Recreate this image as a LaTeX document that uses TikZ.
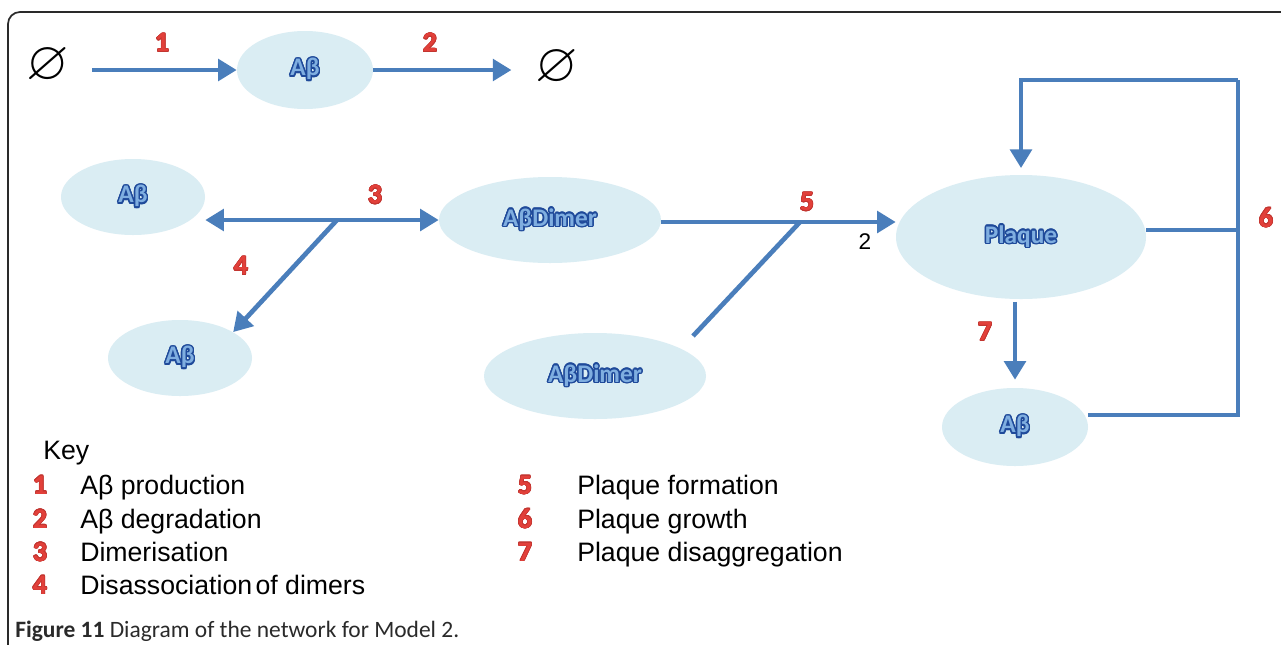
\documentclass[tikz,border=0pt]{standalone}
\usepackage{fontspec}
\usepackage{amssymb}
\usepackage{graphicx}
\setmainfont{Liberation Sans}
\newfontfamily\calfont{Carlito}
\usepackage[copies]{contour}
\usetikzlibrary{arrows.meta,shapes.geometric}
\definecolor{arrowblue}{HTML}{4A7EBB}
\definecolor{ellfill}{HTML}{DAEDF3}
\definecolor{numred}{HTML}{E2403A}
\definecolor{numdark}{HTML}{C23530}
\definecolor{txtfill}{HTML}{7FAEE0}
\definecolor{txtdark}{HTML}{1F4A9A}
\definecolor{framegray}{HTML}{2A2A2A}
\newcommand{\spt}[1]{{\contourlength{1.1pt}\color{txtfill}\contour{txtdark}{#1}}}
\newcommand{\rnum}[1]{{\contourlength{0.45pt}\color{numred}\contour{numdark}{#1}}}
\newcommand{\emptysym}{\scalebox{4.1}{$\varnothing$}}
\begin{document}
\begin{tikzpicture}[x=0.75pt,y=-0.75pt,
  species/.style={ellipse, fill=ellfill, inner sep=0pt, font=\calfont\bfseries\fontsize{19pt}{21pt}\selectfont},
  conn/.style={draw=arrowblue, line width=3.5pt, line join=miter},
  arr/.style={conn, -{Triangle[length=14pt,width=16pt]}},
  darr/.style={conn, {Triangle[length=14pt,width=16pt]}-{Triangle[length=14pt,width=16pt]}},
  num/.style={font=\calfont\bfseries\fontsize{21pt}{23pt}\selectfont, inner sep=0pt},
  empty/.style={inner sep=0pt},
  keytxt/.style={anchor=base west, inner sep=0pt, font=\fontsize{20pt}{22pt}\selectfont},
  keynum/.style={anchor=base, inner sep=0pt, font=\calfont\bfseries\fontsize{21pt}{23pt}\selectfont}
]
\useasboundingbox (0,0) rectangle (1281,644);
\fill[white] (0,0) rectangle (1281,644);
% frame
\draw[framegray, line width=1.3pt, rounded corners=9pt] (8,650) -- (8,12) -- (1290,12);

% nodes
\node[empty] (e1) at (48,66) {\emptysym};
\node[species, minimum width=102pt, minimum height=58.5pt] (ab0) at (305,70) {\spt{Aβ}};
\node[empty] (e2) at (557,68) {\emptysym};

\node[species, minimum width=108pt, minimum height=57pt] (ab1) at (133,197) {\spt{Aβ}};
\node[species, minimum width=166.5pt, minimum height=64.5pt] (d1) at (550,220) {\spt{AβDimer}};
\node[species, minimum width=108pt, minimum height=57pt] (ab2) at (180,358) {\spt{Aβ}};
\node[species, minimum width=166.5pt, minimum height=64.5pt] (d2) at (595,376) {\spt{AβDimer}};
\node[species, minimum width=187.5pt, minimum height=93pt] (pl) at (1021,237) {\spt{Plaque}};
\node[species, minimum width=109.5pt, minimum height=58.5pt] (ab3) at (1015,427) {\spt{Aβ}};

% connectors
\draw[arr] ([xshift=17pt]e1.east |- ab0.west) -- (ab0.west);
\draw[arr, shorten >=18pt] (ab0.east) -- (e2.west |- ab0.east);

\coordinate (j3) at (337,220);
\draw[darr] (ab1.east |- j3) -- (d1.west |- j3);
\draw[arr] (j3) -- (ab2.26);

\coordinate (j5) at (800,222);
\coordinate (b5) at (693,336);
\draw[arr] (d1.east |- j5) -- (pl.west |- j5);
\draw[conn] (b5) -- (j5);

\coordinate (tr) at (1238,80);
\draw[conn] (ab3.east |- 0,415) -| (tr);
\draw[arr, shorten >=5pt] (tr) -| (pl.north);
\draw[conn] (pl.east |- 0,230) -- (tr |- 0,230);
\draw[arr, shorten <=2pt, shorten >=6pt] (pl.south -| ab3.north) -- (ab3.north);

% labels
\node[num] (n1) at (162,43) {\rnum{1}};
\node[num] (n2) at (430,43) {\rnum{2}};
\node[num] (n3) at (375,195) {\rnum{3}};
\node[num] (n4) at (241,266) {\rnum{4}};
\node[num] (n5) at (807,202) {\rnum{5}};
\node[num] (n6) at (1266,218) {\rnum{6}};
\node[num] (n7) at (985,332) {\rnum{7}};
\node[inner sep=0pt, font=\fontsize{17pt}{19pt}\selectfont] (s2) at (865,242) {2};

% key
\node[keytxt] (key) at (43,459) {Key};
\node[keynum] (k1) at (40,494) {\rnum{1}};
\node[keytxt] (t1) at (80,494) {Aβ production};
\node[keynum] (k2) at (40,528) {\rnum{2}};
\node[keytxt] (t2) at (80,528) {Aβ degradation};
\node[keynum] (k3) at (40,561) {\rnum{3}};
\node[keytxt] (t3) at (80,561) {Dimerisation};
\node[keynum] (k4) at (40,594) {\rnum{4}};
\node[keytxt] (t4) at (80,594) {Disassociation\hspace{-3pt} of dimers};
\node[keynum] (k5) at (525,494) {\rnum{5}};
\node[keytxt] (t5) at (577,494) {Plaque formation};
\node[keynum] (k6) at (525,528) {\rnum{6}};
\node[keytxt] (t6) at (577,528) {Plaque growth};
\node[keynum] (k7) at (525,561) {\rnum{7}};
\node[keytxt] (t7) at (577,561) {Plaque disaggregation};

% caption
\node[anchor=base west, inner sep=0pt, text=framegray, font=\calfont\fontsize{17.6pt}{20pt}\selectfont] (cap) at (15,637) {\textbf{Figure 11} Diagram of the network for Model 2.};
\end{tikzpicture}
\end{document}
